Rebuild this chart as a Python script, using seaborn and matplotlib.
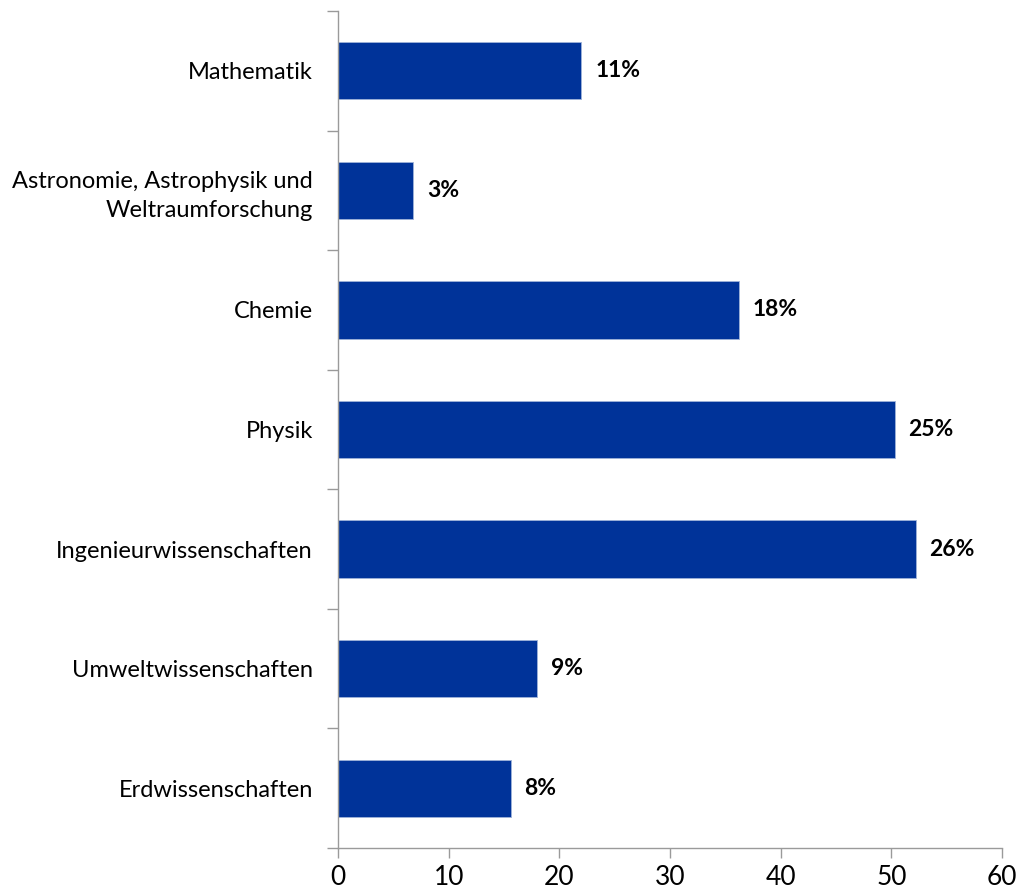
import matplotlib
matplotlib.use("Agg")
import matplotlib.pyplot as plt
import seaborn as sns
import pandas as pd
from matplotlib.ticker import FixedLocator

categories = ["Mathematik", "Astronomie, Astrophysik und\nWeltraumforschung", "Chemie",
              "Physik", "Ingenieurwissenschaften", "Umweltwissenschaften", "Erdwissenschaften"]
values = [22.0, 6.8, 36.2, 50.3, 52.2, 18.0, 15.6]
pct_labels = ["11%", "3%", "18%", "25%", "26%", "9%", "8%"]
x_ticks = [0, 10, 20, 30, 40, 50, 60]

df = pd.DataFrame({"cat": categories, "val": values})

sns.set_theme(style="white")
plt.rcParams["font.family"] = ["Lato", "DejaVu Sans"]

fig = plt.figure(figsize=(10.26, 8.94), dpi=100)
ax = fig.add_axes([338/1026, 46/894, 664/1026, 837/894])

sns.barplot(data=df, x="val", y="cat", orient="h", color="#003399", width=0.48,
            edgecolor="#9fb3d9", linewidth=0.6, ax=ax, saturation=1)

ax.set_xlim(0, 60)
ax.set_ylim(len(categories) - 0.5, -0.5)
ax.set_xlabel("")
ax.set_ylabel("")

for sp in ["top", "right"]:
    ax.spines[sp].set_visible(False)
for sp in ["left", "bottom"]:
    ax.spines[sp].set_color("#9a9a9a")
    ax.spines[sp].set_linewidth(1.0)

ax.set_xticks(x_ticks)
ax.set_xticklabels([str(t) for t in x_ticks], fontsize=19, color="black")
ax.tick_params(axis="x", which="major", direction="out", length=7, width=1,
               color="#9a9a9a", pad=5, bottom=True)

ax.set_yticks(range(len(categories)))
ax.set_yticklabels(categories, fontsize=17, color="black", linespacing=1.43)
ax.tick_params(axis="y", which="major", length=0, pad=18)
ax.yaxis.set_minor_locator(FixedLocator([i - 0.5 for i in range(len(categories) + 1)]))
ax.tick_params(axis="y", which="minor", direction="out", length=8, width=1,
               color="#9a9a9a", left=True)

for i, (v, lab) in enumerate(zip(values, pct_labels)):
    ax.annotate(lab, xy=(v, i), xytext=(10, 0), textcoords="offset points",
                va="center", ha="left", fontsize=16.5, fontweight="bold", color="black")

fig.savefig("out.png", dpi=100)
